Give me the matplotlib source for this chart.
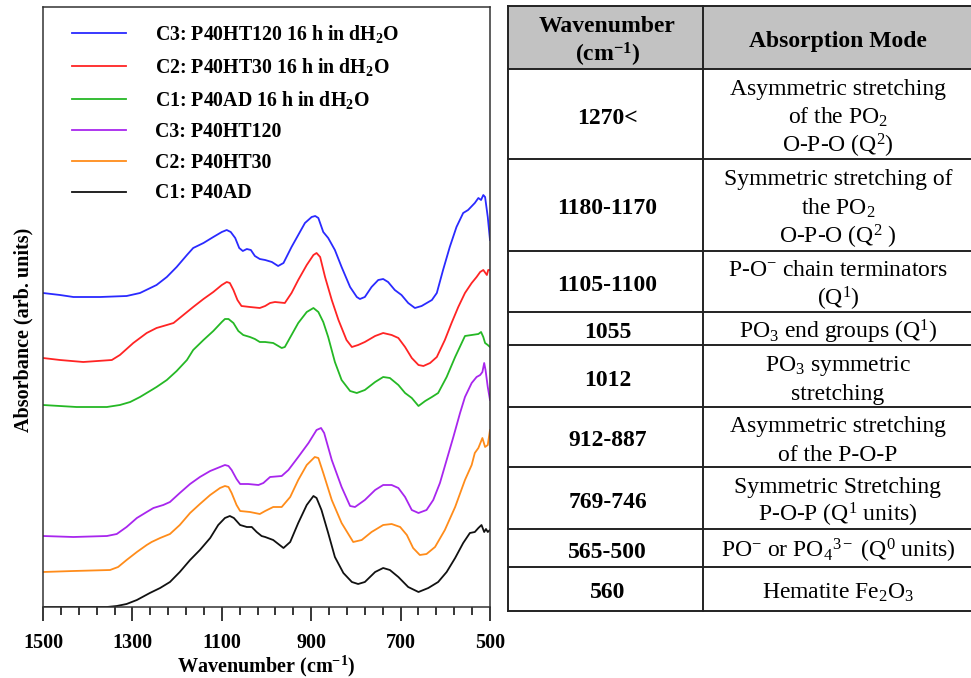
import numpy as np
import matplotlib
matplotlib.use("Agg")
import matplotlib.pyplot as plt

plt.rcParams['font.family'] = ['Liberation Serif', 'DejaVu Serif']
plt.rcParams['mathtext.fontset'] = 'custom'
plt.rcParams['mathtext.rm'] = 'Liberation Serif'
plt.rcParams['mathtext.bf'] = 'Liberation Serif:bold'
plt.rcParams['mathtext.it'] = 'Liberation Serif:italic'

# ---- spectra (absorbance, arb. units, curves already offset) ----
wn_c3_water = [1500, 1462, 1432, 1372, 1313, 1283, 1246, 1223, 1201, 1178, 1164, 1141, 1119, 1100, 1089,
               1080, 1070, 1061, 1053, 1044, 1035, 1026, 1015, 1003, 988, 974, 962, 944, 929, 914, 899,
               891, 884, 873, 862, 847, 832, 813, 798, 791, 780, 765, 750, 739, 728, 713, 698, 683, 668,
               653, 630, 619, 605, 590, 575, 560, 549, 534, 526, 520, 515, 511, 505, 500]
ab_c3_water = [3.14, 3.12, 3.10, 3.10, 3.11, 3.14, 3.22, 3.30, 3.40, 3.52, 3.59, 3.64, 3.70, 3.75, 3.77,
               3.75, 3.69, 3.59, 3.56, 3.58, 3.57, 3.51, 3.48, 3.47, 3.45, 3.41, 3.44, 3.60, 3.72, 3.84, 3.90,
               3.91, 3.89, 3.75, 3.69, 3.57, 3.40, 3.20, 3.10, 3.08, 3.10, 3.20, 3.27, 3.28, 3.25, 3.17, 3.12,
               3.04, 2.99, 3.01, 3.07, 3.14, 3.37, 3.60, 3.80, 3.94, 3.97, 4.04, 4.09, 4.07, 4.12, 4.10, 3.90,
               3.67]

wn_c2_water = [1500, 1462, 1410, 1346, 1328, 1298, 1268, 1246, 1223, 1208, 1186, 1164, 1141, 1119, 1100,
               1089, 1082, 1074, 1065, 1056, 1037, 1015, 1003, 992, 981, 959, 944, 929, 910, 895, 888, 880,
               869, 854, 839, 821, 809, 795, 780, 757, 739, 720, 705, 690, 675, 660, 649, 634, 619, 601,
               586, 571, 556, 541, 530, 522, 515, 507, 504, 500]
ab_c2_water = [2.49, 2.47, 2.45, 2.47, 2.52, 2.64, 2.74, 2.79, 2.82, 2.84, 2.92, 3.00, 3.08, 3.15, 3.22,
               3.25, 3.24, 3.17, 3.07, 3.01, 3.00, 2.99, 3.01, 3.04, 3.05, 3.04, 3.14, 3.27, 3.42, 3.52, 3.54,
               3.50, 3.30, 3.07, 2.87, 2.67, 2.60, 2.62, 2.65, 2.71, 2.74, 2.72, 2.69, 2.60, 2.49, 2.42, 2.41,
               2.44, 2.50, 2.67, 2.84, 3.00, 3.14, 3.24, 3.30, 3.35, 3.37, 3.32, 3.37, 3.37]

wn_c1_water = [1500, 1425, 1357, 1328, 1305, 1283, 1257, 1246, 1223, 1201, 1178, 1164, 1141, 1119, 1100,
               1093, 1085, 1074, 1063, 1052, 1037, 1026, 1015, 1003, 985, 966, 959, 944, 929, 910, 895, 884,
               873, 862, 847, 832, 813, 798, 780, 757, 739, 724, 705, 690, 675, 660, 645, 630, 616, 597,
               578, 556, 541, 526, 520, 515, 511, 505, 500]
ab_c1_water = [2.02, 2.00, 2.00, 2.02, 2.05, 2.10, 2.17, 2.20, 2.27, 2.36, 2.47, 2.57, 2.67, 2.76, 2.85,
               2.88, 2.88, 2.84, 2.76, 2.72, 2.70, 2.68, 2.65, 2.65, 2.64, 2.59, 2.60, 2.72, 2.84, 2.95, 2.99,
               2.95, 2.85, 2.70, 2.45, 2.27, 2.16, 2.14, 2.17, 2.25, 2.30, 2.29, 2.22, 2.14, 2.09, 2.01, 2.06,
               2.10, 2.14, 2.30, 2.50, 2.71, 2.72, 2.73, 2.75, 2.70, 2.64, 2.62, 2.60]

wn_c3 = [1500, 1432, 1357, 1335, 1313, 1290, 1268, 1253, 1231, 1216, 1194, 1171, 1149, 1126, 1104, 1093,
         1085, 1078, 1067, 1059, 1041, 1018, 1007, 992, 966, 951, 929, 906, 888, 878, 871, 854, 832, 813,
         802, 780, 757, 739, 720, 705, 690, 675, 660, 642, 627, 612, 597, 582, 567, 556, 541, 530, 522,
         517, 513, 510, 505, 500]
ab_c3 = [0.71, 0.70, 0.71, 0.73, 0.80, 0.89, 0.95, 0.99, 1.02, 1.05, 1.14, 1.23, 1.30, 1.36, 1.40, 1.42,
         1.41, 1.37, 1.28, 1.23, 1.23, 1.22, 1.24, 1.30, 1.31, 1.37, 1.50, 1.64, 1.77, 1.79, 1.74, 1.47,
         1.20, 1.01, 1.00, 1.07, 1.17, 1.22, 1.22, 1.19, 1.10, 0.97, 0.94, 0.97, 1.07, 1.24, 1.47, 1.70,
         1.94, 2.10, 2.24, 2.30, 2.32, 2.35, 2.44, 2.37, 2.20, 2.07]

wn_c2 = [1500, 1432, 1350, 1332, 1313, 1290, 1268, 1257, 1238, 1216, 1194, 1171, 1149, 1126, 1104, 1093,
         1085, 1078, 1067, 1059, 1037, 1015, 1003, 985, 966, 947, 929, 910, 892, 884, 873, 854, 832, 806,
         787, 765, 739, 720, 701, 686, 672, 657, 642, 623, 601, 578, 556, 541, 534, 526, 517, 511, 505, 500]
ab_c2 = [0.35, 0.36, 0.37, 0.40, 0.47, 0.55, 0.62, 0.65, 0.69, 0.73, 0.82, 0.94, 1.03, 1.12, 1.19, 1.21,
         1.20, 1.14, 1.02, 0.96, 0.95, 0.93, 0.96, 1.00, 1.00, 1.10, 1.27, 1.42, 1.50, 1.49, 1.34, 1.07,
         0.84, 0.65, 0.67, 0.75, 0.82, 0.83, 0.80, 0.72, 0.59, 0.52, 0.53, 0.60, 0.77, 1.00, 1.27, 1.42,
         1.54, 1.59, 1.69, 1.60, 1.62, 1.77]

wn_c1 = [1500, 1357, 1335, 1313, 1290, 1261, 1238, 1216, 1194, 1171, 1149, 1126, 1108, 1093, 1082, 1073,
         1059, 1044, 1033, 1022, 1011, 1003, 985, 962, 947, 929, 910, 895, 888, 877, 862, 847, 828, 809,
         795, 780, 757, 739, 724, 705, 683, 660, 638, 616, 597, 578, 560, 545, 534, 526, 519, 513, 509,
         505, 500]
ab_c1 = [0.00, 0.00, 0.01, 0.03, 0.07, 0.14, 0.19, 0.25, 0.35, 0.47, 0.57, 0.69, 0.82, 0.89, 0.91, 0.89,
         0.82, 0.80, 0.80, 0.75, 0.71, 0.70, 0.67, 0.59, 0.65, 0.84, 1.02, 1.11, 1.09, 0.97, 0.74, 0.50,
         0.34, 0.25, 0.23, 0.25, 0.35, 0.39, 0.37, 0.30, 0.20, 0.15, 0.19, 0.25, 0.35, 0.49, 0.64, 0.74,
         0.75, 0.79, 0.82, 0.75, 0.78, 0.75, 0.77]

labels = [r"C3: P40HT120 16 h in dH$_{\mathbf{2}}$O",
          r"C2: P40HT30 16 h in dH$_{\mathbf{2}}$O",
          r"C1: P40AD 16 h in dH$_{\mathbf{2}}$O",
          "C3: P40HT120",
          "C2: P40HT30",
          "C1: P40AD"]

# ---- table contents ----
header = [["Wavenumber", r"(cm$^{\mathbf{-1}}$)"], ["Absorption Mode"]]
table_wn = ["1270<", "1180-1170", "1105-1100", "1055", "1012", "912-887", "769-746", "565-500", "560"]
table_mode = [["Asymmetric stretching", r"of the PO$_2$", r"O-P-O (Q$^2$)"],
              ["Symmetric stretching of", r"the PO$_2$", r"O-P-O (Q$^2$ )"],
              [r"P-O$^{-}$ chain terminators", r"(Q$^1$)"],
              [r"PO$_3$ end groups (Q$^1$)"],
              [r"PO$_3$ symmetric", "stretching"],
              ["Asymmetric stretching", "of the P-O-P"],
              ["Symmetric Stretching", r"P-O-P (Q$^1$ units)"],
              [r"PO$^{-}$ or PO$_4$$^{3-}$ (Q$^0$ units)"],
              [r"Hematite Fe$_2$O$_3$"]]

W, H = 971, 678
fig = plt.figure(figsize=(W / 100, H / 100), dpi=100)

ax = fig.add_axes([43 / W, (H - 607) / H, 447 / W, 600 / H])
series = [(wn_c3_water, ab_c3_water, '#2a2aff'),
          (wn_c2_water, ab_c2_water, '#ff2424'),
          (wn_c1_water, ab_c1_water, '#25b825'),
          (wn_c3, ab_c3, '#a826ee'),
          (wn_c2, ab_c2, '#ff8c1a'),
          (wn_c1, ab_c1, '#111111')]
for (x, y, c), lab in zip(series, labels):
    ax.plot(x, y, color=c, lw=1.3, label=lab, solid_joinstyle='round')

ax.set_xlim(1500, 500)
ax.set_ylim(0, 6)
ax.set_xticks([1500, 1300, 1100, 900, 700, 500])
ax.set_xticks(np.arange(500, 1501, 40), minor=True)
ax.set_yticks([])
ax.tick_params(axis='x', which='major', direction='out', length=10, width=1.1, pad=8.5, labelsize=14.5)
ax.tick_params(axis='x', which='minor', direction='out', length=5.5, width=1.1)
for t in ax.get_xticklabels():
    t.set_fontweight('bold')
for s in ax.spines.values():
    s.set_linewidth(1.1)
    s.set_color('#333333')
ax.set_xlabel(r"Wavenumber (cm$^{\mathbf{-1}}$)", fontsize=14.5, fontweight='bold', labelpad=0.5)
ax.set_ylabel("Absorbance (arb. units)", fontsize=14.5, fontweight='bold')
ax.yaxis.set_label_coords(-0.022, 0.462)

leg = ax.legend(loc='upper left', bbox_to_anchor=(0.016, 1.01), frameon=False,
                prop={'weight': 'bold', 'size': 14.3},
                handlelength=2.7, handletextpad=1.5, labelspacing=0.55,
                borderaxespad=0.6, borderpad=0.5)

# ---- table drawn in pixel coordinates ----
tab = fig.add_axes([0, 0, 1, 1])
tab.set_xlim(0, W)
tab.set_ylim(H, 0)
tab.axis('off')

left, mid, right = 508, 703, 973
row_heights = [63, 90, 92, 61, 33, 62, 60, 62, 38, 44]
edges = np.concatenate([[6], 6 + np.cumsum(row_heights)])

tab.fill_between([left, right], edges[0], edges[1], color='#c2c2c2', lw=0)
for e in edges:
    tab.plot([left, right], [e, e], color='#222222', lw=1.4)
for xv in (left, mid, right):
    tab.plot([xv, xv], [edges[0], edges[-1]], color='#222222', lw=1.4)

cx1 = (left + mid) / 2 + 2
cx2 = 838
fs = 17
pitch = 29
base_off = 9.5   # baseline sits below the visual middle of a line


def cell(x, top, bottom, lines, bold=False, step=pitch):
    yc = (top + bottom) / 2
    n = len(lines)
    for j, s in enumerate(lines):
        y = yc + base_off + (j - (n - 1) / 2) * step
        tab.text(x, y, s, ha='center', va='baseline', fontsize=fs,
                 fontweight='bold' if bold else 'normal')


cell(cx1, edges[0], edges[1], header[0], bold=True, step=29)
cell(cx2, edges[0], edges[1], header[1], bold=True)
for i, (w_txt, m_lines) in enumerate(zip(table_wn, table_mode)):
    top, bot = edges[i + 1], edges[i + 2]
    cell(cx1, top, bot, [w_txt], bold=True)
    cell(cx2, top, bot, m_lines)

fig.savefig("out.png", dpi=100)
